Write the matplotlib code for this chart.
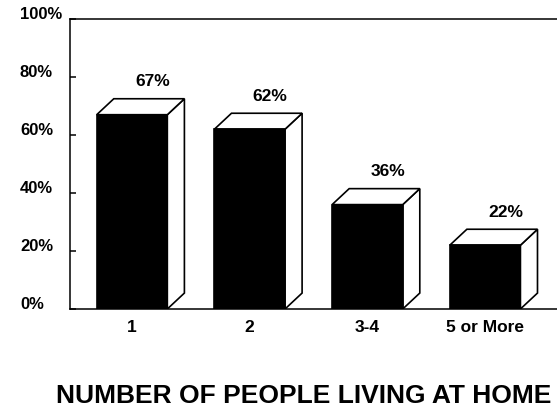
import matplotlib
matplotlib.use("Agg")
import matplotlib.pyplot as plt
from matplotlib.patches import Polygon

categories = ["1", "2", "3-4", "5 or More"]
percentages = [67, 62, 36, 22]
y_ticks = [0, 20, 40, 60, 80, 100]
y_tick_labels = ["0%", "20%", "40%", "60%", "80%", "100%"]
title = "NUMBER OF PEOPLE LIVING AT HOME"

plt.rcParams["font.family"] = ["Liberation Sans", "DejaVu Sans"]

fig = plt.figure(figsize=(5.57, 4.12), dpi=100)
ax = fig.add_axes([70 / 557, 103 / 412, 550 / 557, 290 / 412])

bar_width = 0.6
depth_x = 0.145   # 3D offset, x in data units
depth_y = 5.5     # 3D offset, y in percent
edge_lw = 1.2

for i, value in enumerate(percentages):
    left = i - bar_width / 2
    right = i + bar_width / 2
    # front face
    ax.bar(i, value, width=bar_width, color="black", edgecolor="black",
           linewidth=edge_lw, zorder=3)
    # side face
    side = Polygon([(right, 0), (right + depth_x, depth_y),
                    (right + depth_x, value + depth_y), (right, value)],
                   closed=True, facecolor="white", edgecolor="black",
                   linewidth=edge_lw, zorder=2)
    ax.add_patch(side)
    # top face
    top = Polygon([(left, value), (left + depth_x, value + depth_y),
                   (right + depth_x, value + depth_y), (right, value)],
                  closed=True, facecolor="white", edgecolor="black",
                  linewidth=edge_lw, zorder=2)
    ax.add_patch(top)
    ax.text(i + depth_x * 1.2, value + depth_y + 5.8, f"{value}%",
            ha="center", va="center", fontsize=12.5, fontweight="bold")

ax.set_xlim(-0.527, 4.146)
ax.set_ylim(0, 100)

ax.set_yticks(y_ticks)
ax.set_yticklabels(y_tick_labels, fontsize=12, fontweight="bold")
ax.tick_params(axis="y", direction="in", length=4, width=1.1, pad=36)
for lbl in ax.get_yticklabels():
    lbl.set_horizontalalignment("left")
    lbl.set_verticalalignment("baseline")

ax.set_xticks(range(len(categories)))
ax.set_xticklabels(categories, fontsize=12.5, fontweight="bold")
ax.tick_params(axis="x", length=0, pad=8)

for side_name in ["left", "top", "bottom"]:
    ax.spines[side_name].set_linewidth(1.1)
ax.spines["right"].set_visible(False)

# title kept fully inside the figure
fig.text(56 / 557, 9 / 412, title, ha="left", va="baseline",
         fontsize=19, fontweight="bold")

fig.savefig("out.png", dpi=100)
